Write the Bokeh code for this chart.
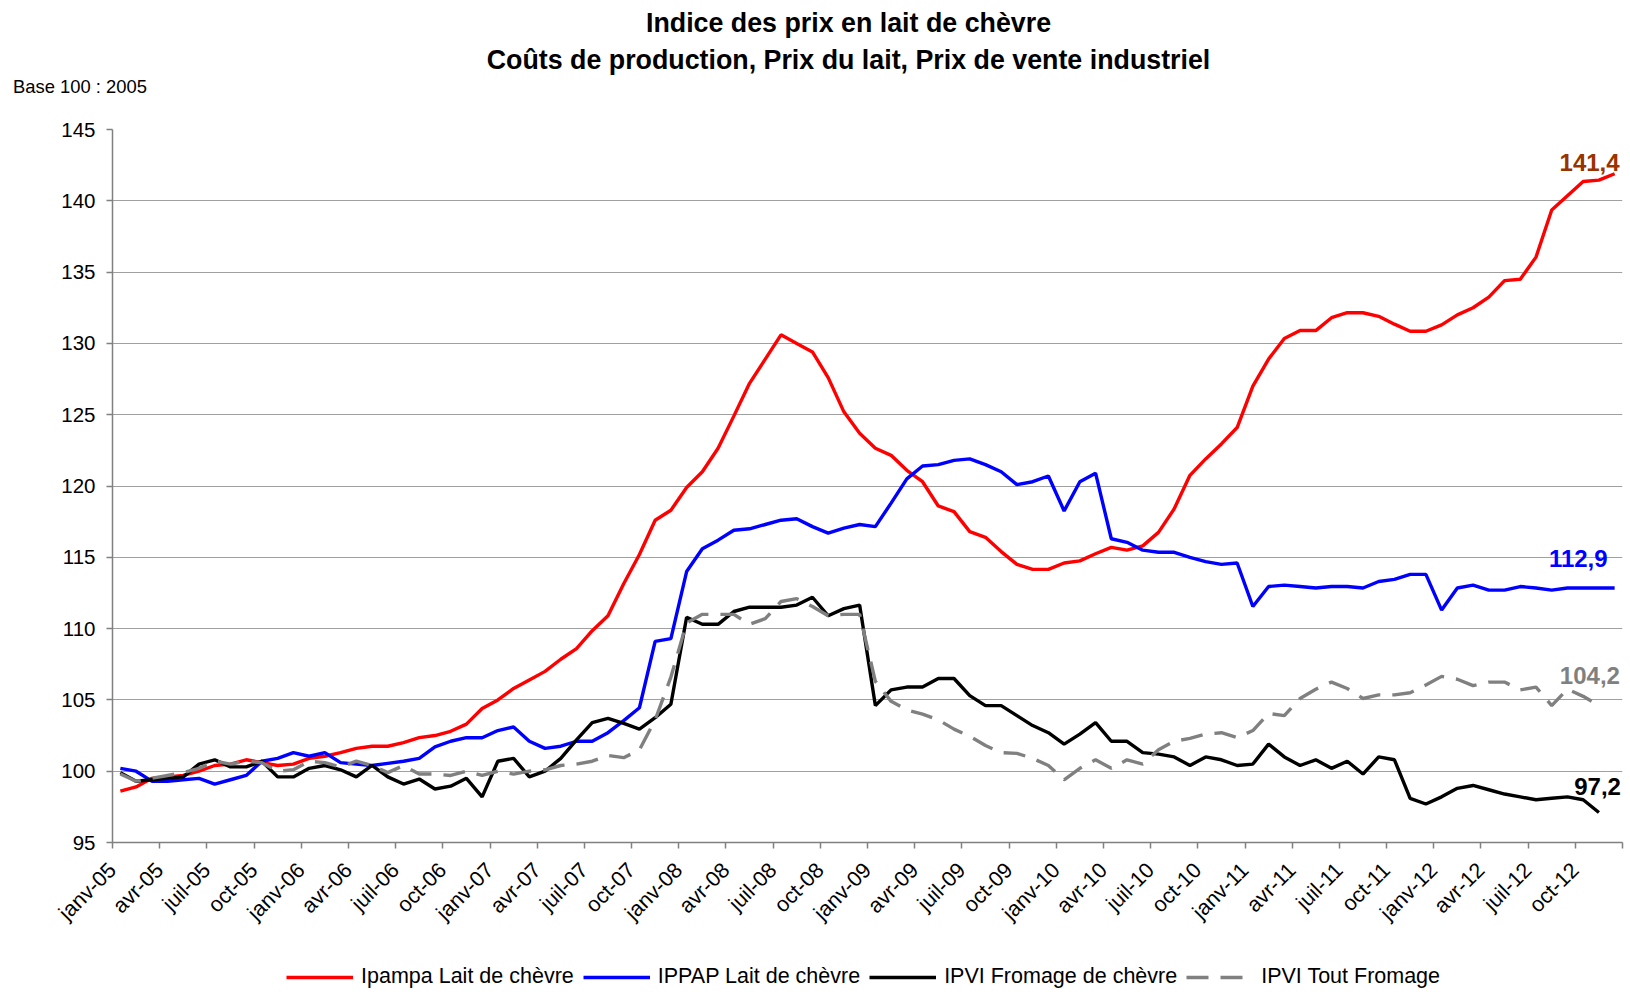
import numpy as np
from bokeh.plotting import figure
from bokeh.layouts import column
from bokeh.models import FixedTicker, Label, Legend, LegendItem, Range1d, Plot
from bokeh.core.properties import value
from bokeh.embed import file_html
from bokeh.resources import INLINE

# ---------------- data ----------------
tick_labels = ["janv-05", "avr-05", "juil-05", "oct-05",
               "janv-06", "avr-06", "juil-06", "oct-06",
               "janv-07", "avr-07", "juil-07", "oct-07",
               "janv-08", "avr-08", "juil-08", "oct-08",
               "janv-09", "avr-09", "juil-09", "oct-09",
               "janv-10", "avr-10", "juil-10", "oct-10",
               "janv-11", "avr-11", "juil-11", "oct-11",
               "janv-12", "avr-12", "juil-12", "oct-12"]

ipampa_lait_chevre = [
    98.6, 98.9, 99.5, 99.6, 99.7, 100.0, 100.4, 100.5, 100.8, 100.6, 100.4, 100.5,
    100.9, 101.05, 101.3, 101.6, 101.75, 101.75, 102.0, 102.35, 102.5, 102.8, 103.3, 104.4,
    105.0, 105.8, 106.4, 107.0, 107.85, 108.6, 109.85, 110.9, 113.15, 115.2, 117.6, 118.3,
    119.9, 121.0, 122.65, 124.9, 127.2, 128.9, 130.6, 130.0, 129.4, 127.6, 125.2, 123.7,
    122.65, 122.15, 121.1, 120.3, 118.6, 118.2, 116.8, 116.4, 115.4, 114.5, 114.15, 114.15,
    114.6, 114.75, 115.25, 115.7, 115.5, 115.8, 116.75, 118.4, 120.75, 121.9, 122.95, 124.1,
    127.0, 128.9, 130.35, 130.9, 130.9, 131.8, 132.15, 132.15, 131.9, 131.35, 130.85, 130.85,
    131.3, 132.0, 132.5, 133.25, 134.4, 134.5, 136.05, 139.35, 140.35, 141.35, 141.45, 141.9]

ippap_lait_chevre = [
    100.2, 100.0, 99.3, 99.3, 99.4, 99.5, 99.1, 99.4, 99.7, 100.7, 100.9, 101.3,
    101.05, 101.3, 100.6, 100.5, 100.4, 100.55, 100.7, 100.9, 101.7, 102.1, 102.35, 102.35,
    102.85, 103.1, 102.1, 101.6, 101.75, 102.1, 102.1, 102.7, 103.55, 104.45, 109.1, 109.3,
    114.0, 115.6, 116.2, 116.9, 117.0, 117.3, 117.6, 117.7, 117.15, 116.7, 117.05, 117.3,
    117.15, 118.8, 120.5, 121.4, 121.5, 121.8, 121.9, 121.5, 121.0, 120.1, 120.3, 120.7,
    118.25, 120.3, 120.9, 116.3, 116.05, 115.5, 115.35, 115.35, 115.0, 114.7, 114.5, 114.6,
    111.55, 112.95, 113.05, 112.95, 112.85, 112.95, 112.95, 112.85, 113.3, 113.45, 113.8, 113.8,
    111.3, 112.85, 113.05, 112.7, 112.7, 112.95, 112.85, 112.7, 112.85, 112.85, 112.85, 112.85]

ipvi_fromage_chevre = [
    99.9, 99.3, 99.4, 99.5, 99.6, 100.5, 100.8, 100.3, 100.3, 100.7, 99.6, 99.6,
    100.2, 100.4, 100.1, 99.6, 100.4, 99.6, 99.1, 99.45, 98.75, 98.95, 99.5, 98.2,
    100.7, 100.9, 99.6, 100.0, 100.9, 102.2, 103.4, 103.7, 103.35, 102.95, 103.75, 104.7,
    110.8, 110.3, 110.3, 111.2, 111.5, 111.5, 111.5, 111.65, 112.2, 110.9, 111.4, 111.65,
    104.6, 105.7, 105.9, 105.9, 106.5, 106.5, 105.3, 104.6, 104.6, 103.9, 103.2, 102.7,
    101.9, 102.6, 103.4, 102.1, 102.1, 101.3, 101.2, 101.0, 100.4, 101.0, 100.8, 100.4,
    100.5, 101.9, 101.0, 100.4, 100.8, 100.2, 100.7, 99.8, 101.0, 100.8, 98.1, 97.7,
    98.2, 98.8, 99.0, 98.7, 98.4, 98.2, 98.0, 98.1, 98.2, 98.0, 97.1]

ipvi_tout_fromage = [
    99.8, 99.3, 99.5, 99.7, 99.9, 100.2, 100.7, 100.5, 100.7, 100.6, 100.0, 100.1,
    100.7, 100.6, 100.3, 100.7, 100.4, 99.9, 100.4, 99.8, 99.8, 99.7, 100.0, 99.7,
    100.0, 99.8, 100.0, 100.1, 100.4, 100.5, 100.7, 101.1, 100.95, 101.5, 103.6, 106.6,
    110.4, 111.0, 111.0, 111.0, 110.3, 110.7, 111.9, 112.1, 111.55, 110.9, 111.0, 111.0,
    106.3, 104.9, 104.3, 104.0, 103.6, 102.95, 102.45, 101.8, 101.3, 101.25, 100.9, 100.4,
    99.4, 100.2, 100.8, 100.2, 100.8, 100.5, 101.5, 102.1, 102.3, 102.6, 102.7, 102.35,
    102.85, 104.05, 103.9, 105.1, 105.75, 106.25, 105.8, 105.1, 105.35, 105.35, 105.5, 106.05,
    106.65, 106.45, 106.0, 106.25, 106.25, 105.7, 105.9, 104.6, 105.75, 105.25, 104.6]

end_labels = ["141,4", "112,9", "97,2", "104,2"]
series_names = ["Ipampa Lait de chèvre", "IPPAP Lait de chèvre",
                "IPVI Fromage de chèvre", "IPVI Tout Fromage"]
title_lines = ["Indice des prix en lait de chèvre",
               "Coûts de production, Prix du lait, Prix de vente industriel"]
base_note = "Base 100 : 2005"

# ---------------- styles / geometry ----------------
FONT = "Liberation Sans"
W = 1626
H_TOP, H_MAIN, H_LEG = 115, 835, 40
n_months = len(ipampa_lait_chevre)
colors = ["#FF0000", "#0000FF", "#000000", "#808080"]
dashes = ["solid", "solid", "solid", "22 12"]
LW = 3.4
HAS_FRAME_ALIGN = "frame_align" in Plot.properties()


def no_align(fig):
    if HAS_FRAME_ALIGN:
        fig.frame_align = False


# ---------------- title strip ----------------
pt = figure(width=W, height=H_TOP, output_backend="svg", toolbar_location=None,
            x_range=Range1d(0, W), y_range=Range1d(H_TOP, 0),
            x_axis_location=None, y_axis_location=None, min_border=0)
no_align(pt)
pt.grid.visible = False
pt.outline_line_color = None
pt.text(x=[848, 848], y=[22.5, 59.5], text=title_lines, text_align="center",
        text_baseline="alphabetic", text_font=value(FONT), text_font_style="bold",
        text_font_size="26.8px", text_color="black")
pt.text(x=[12.5], y=[86], text=[base_note], text_align="left",
        text_baseline="alphabetic", text_font=value(FONT),
        text_font_size="18.4px", text_color="black")

# ---------------- main chart ----------------
p = figure(width=W, height=H_MAIN, output_backend="svg", toolbar_location=None,
           x_range=Range1d(0, n_months), y_range=Range1d(95, 145),
           min_border_left=112, min_border_right=4, min_border_top=14,
           min_border_bottom=108)
no_align(p)
p.outline_line_color = None
p.background_fill_color = "white"
p.border_fill_color = "white"

p.xaxis.ticker = FixedTicker(ticks=list(range(0, n_months + 1, 3)))
overrides = {3 * k: lab for k, lab in enumerate(tick_labels)}
overrides[n_months] = ""
p.xaxis.major_label_overrides = overrides
p.xaxis.major_label_orientation = np.pi / 4
p.yaxis.ticker = FixedTicker(ticks=list(range(95, 146, 5)))
for ax in (p.xaxis, p.yaxis):
    ax.axis_line_color = "#808080"
    ax.axis_line_width = 1.5
    ax.major_tick_line_color = "#808080"
    ax.major_tick_line_width = 1.5
    ax.major_tick_out = 6
    ax.major_tick_in = 0
    ax.minor_tick_line_color = None
    ax.major_label_text_font = FONT
    ax.major_label_text_color = "black"
p.yaxis.major_label_text_font_size = "20.5px"
p.xaxis.major_label_text_font_size = "21.5px"
p.yaxis.major_label_standoff = 11
p.xaxis.major_label_standoff = 18

p.xgrid.grid_line_color = None
p.ygrid.grid_line_color = "#A0A0A0"
p.ygrid.grid_line_width = 1

x_full = np.arange(len(ipampa_lait_chevre)) + 0.5
x_short = np.arange(len(ipvi_fromage_chevre)) + 0.5
series = [(x_full, ipampa_lait_chevre), (x_full, ippap_lait_chevre),
          (x_short, ipvi_fromage_chevre), (x_short, ipvi_tout_fromage)]
for (xs, ys), c, d in zip(series, colors, dashes):
    p.line(xs, ys, line_color=c, line_width=LW, line_dash=d)

# end labels anchored on the last point of each series
label_colors = ["#993300", "#0000FF", "#000000", "#808080"]
label_offsets = [(5, 11), (-7, 29), (22, 26), (21, 30)]
for (xs, ys), txt, col, (dx, dy) in zip(series, end_labels, label_colors, label_offsets):
    p.add_layout(Label(x=xs[-1], y=ys[-1], text=txt, x_offset=dx, y_offset=dy,
                       text_align="right", text_baseline="alphabetic",
                       text_font=FONT, text_font_style="bold",
                       text_font_size="24px", text_color=col))

# ---------------- legend strip ----------------
pl = figure(width=W, height=H_LEG, output_backend="svg", toolbar_location=None,
            x_range=Range1d(0, 1), y_range=Range1d(0, 1),
            x_axis_location=None, y_axis_location=None, min_border=0)
no_align(pl)
pl.grid.visible = False
pl.outline_line_color = None
items = []
for name, c, d in zip(series_names, colors, dashes):
    # legend proxy: a line with no visible points, styled like the series
    r = pl.line([np.nan, np.nan], [np.nan, np.nan], line_color=c, line_width=LW,
                line_dash=d)
    items.append(LegendItem(label=name, renderers=[r]))
legend = Legend(items=items, orientation="horizontal", location=(286, 1),
                glyph_width=67, glyph_height=22, label_standoff=8, spacing=9,
                padding=0, margin=0, border_line_color=None,
                background_fill_alpha=0, label_text_font=FONT,
                label_text_font_size="21.5px", label_text_color="black")
pl.add_layout(legend)

layout = column(pt, p, pl, spacing=0)
open("out.html", "w").write(file_html(layout, INLINE))
